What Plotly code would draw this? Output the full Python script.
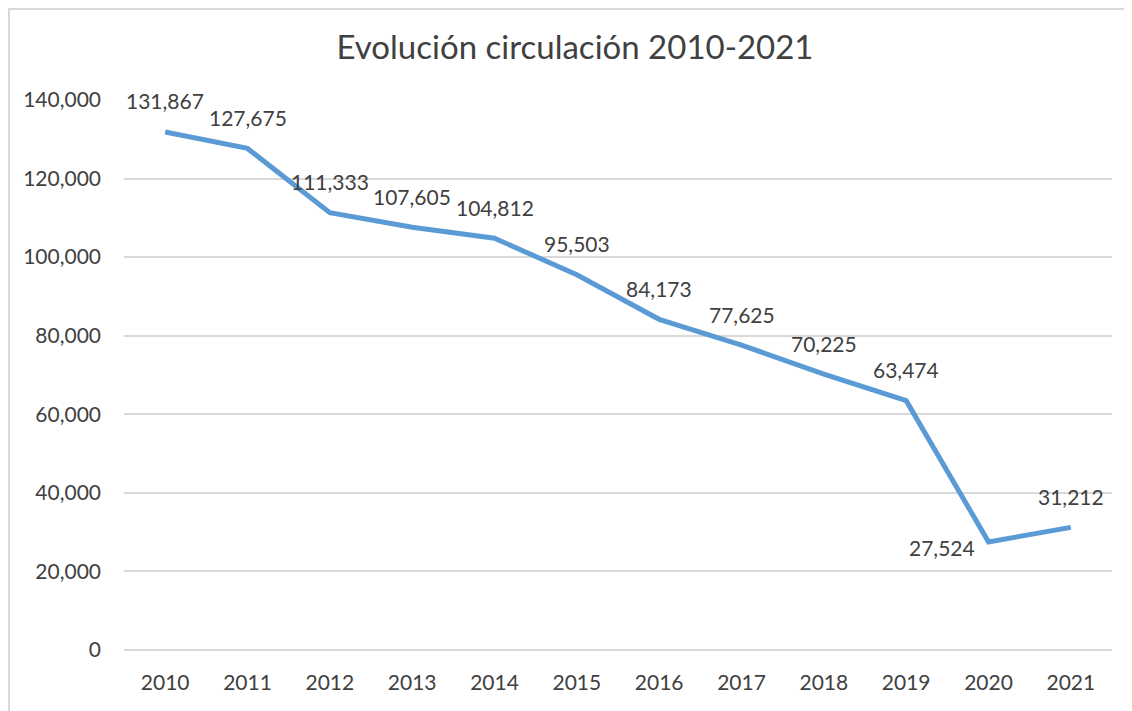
import plotly.graph_objects as go

years = ['2010', '2011', '2012', '2013', '2014', '2015', '2016', '2017', '2018', '2019', '2020', '2021']
circulacion = [131867, 127675, 111333, 107605, 104812, 95503, 84173, 77625, 70225, 63474, 27524, 31212]

y_ticks = [0, 20000, 40000, 60000, 80000, 100000, 120000, 140000]

text_color = '#404040'
grid_color = '#D9D9D9'
font_family = 'Lato, Open Sans, sans-serif'

fig = go.Figure()
fig.add_trace(go.Scatter(
    x=years,
    y=circulacion,
    mode='lines',
    line=dict(color='#5B9BD5', width=5),
    cliponaxis=False,
    showlegend=False,
))

# data labels: above each point, except 2020 which sits to the left
# (category index as x, otherwise '2010' is read as the number 2010)
for i, (yr, v) in enumerate(zip(years, circulacion)):
    if yr == '2020':
        fig.add_annotation(x=i, y=v, text=f'{v:,}', showarrow=False,
                           xanchor='right', yanchor='middle', xshift=-12, yshift=-6)
    else:
        fig.add_annotation(x=i, y=v, text=f'{v:,}', showarrow=False,
                           xanchor='center', yanchor='middle', yshift=31)

fig.update_annotations(font=dict(color=text_color, size=21, family=font_family))

fig.update_layout(
    width=1132,
    height=711,
    plot_bgcolor='white',
    paper_bgcolor='white',
    margin=dict(l=116, r=28, t=92, b=69),
    title=dict(
        text='Evolución circulación 2010-2021',
        x=567 / 1132, xref='container', xanchor='center',
        y=1 - 39 / 711, yref='container', yanchor='middle',
        font=dict(color=text_color, size=33, family=font_family),
    ),
    font=dict(family=font_family, color=text_color, size=21),
)

# chart frame (left and top edges visible in the reference)
fig.add_shape(type='rect', xref='paper', yref='paper',
              x0=(1 - 116) / 988, x1=1.1, y0=-0.3, y1=1 + 91 / 550,
              line=dict(color=grid_color, width=2), layer='below')

fig.update_xaxes(
    type='category',
    range=[-0.5, len(years) - 0.5],
    showgrid=False,
    showline=False,
    ticks='',
    tickfont=dict(color=text_color, size=21, family=font_family),
    ticklabelstandoff=18,
)
fig.update_yaxes(
    range=[0, 140000],
    tickvals=y_ticks,
    tickformat=',',
    showgrid=True,
    gridcolor=grid_color,
    gridwidth=1.5,
    zeroline=True,
    zerolinecolor=grid_color,
    zerolinewidth=1.5,
    showline=False,
    ticks='',
    tickfont=dict(color=text_color, size=21, family=font_family),
    ticklabelstandoff=22,
)

fig.write_html('out.html')
